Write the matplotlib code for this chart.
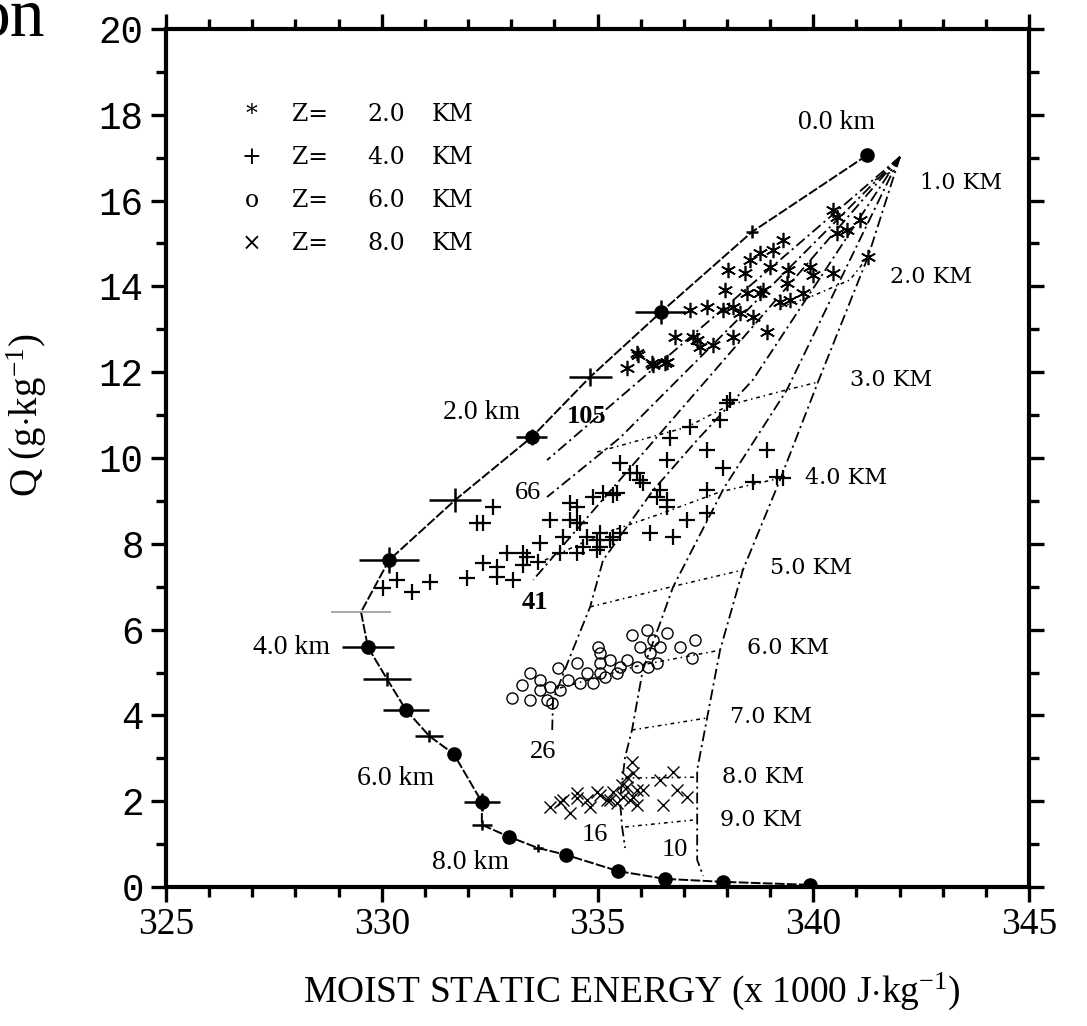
import matplotlib
matplotlib.use("Agg")
import matplotlib.pyplot as plt
from matplotlib.ticker import MultipleLocator
import numpy as np

plt.rcParams['mathtext.fontset'] = 'custom'
plt.rcParams['mathtext.rm'] = 'Liberation Serif'
plt.rcParams['mathtext.it'] = 'Liberation Serif:italic'
plt.rcParams['mathtext.default'] = 'rm'

# ---------------- data ----------------
# environmental sounding: integer-km points (filled dots)
dot_km = [0, 1, 2, 3, 4, 5, 6, 7, 8, 9, 10, 11, 12, 13]
dot_h = [341.25, 336.47, 333.48, 330.17, 329.68, 330.56, 331.67, 332.32, 332.95, 334.27, 335.48, 336.56, 337.91, 339.92]
dot_q = [17.06, 13.40, 10.49, 7.62, 5.59, 4.13, 3.10, 1.98, 1.17, 0.75, 0.37, 0.19, 0.12, 0.05]
dot_herr = [0, 0.59, 0.36, 0.70, 0.61, 0.54, 0, 0.41, 0, 0, 0, 0, 0, 0]
dot_qerr = [0, 0.28, 0.19, 0.30, 0, 0, 0, 0.20, 0, 0, 0, 0, 0, 0]
# half-km points (crosses)
half_km = [0.5, 1.5, 2.5, 3.5, 4.5, 5.5, 7.5, 8.5]
half_h = [338.58, 334.83, 331.70, 329.52, 330.12, 331.10, 332.32, 333.62]
half_q = [15.27, 11.89, 9.02, 6.41, 4.85, 3.52, 1.45, 0.91]
half_herr = [0.15, 0.50, 0.60, 0.70, 0.56, 0.32, 0.23, 0.12]
half_qerr = [0.15, 0.21, 0.28, 0.0, 0.16, 0.14, 0.12, 0.10]

# mixing lines (fan from the 1 km source point)
mix105_h = [342.01, 335.45, 333.83]
mix105_q = [17.02, 11.35, 9.95]
mix66_h = [342.01, 335.52, 333.83]
mix66_q = [17.02, 10.47, 9.09]
mix41_h = [342.01, 333.51]
mix41_q = [17.02, 7.16]
mix26_h = [342.01, 338.60, 337.31, 336.29, 335.13, 334.83, 334.36, 333.97, 333.95]
mix26_q = [17.02, 11.82, 10.42, 9.25, 7.62, 6.53, 5.36, 4.36, 3.66]
mix16_h = [342.01, 339.39, 337.93, 336.75, 336.45, 336.05, 335.80, 335.64, 335.52, 335.57, 335.64]
mix16_q = [17.02, 11.59, 9.30, 6.99, 6.15, 5.06, 3.66, 3.03, 2.03, 1.40, 0.91]
mix10_h = [342.01, 341.27, 340.11, 339.23, 338.37, 337.84, 337.54, 337.31, 337.31, 337.45]
mix10_q = [17.02, 14.69, 11.77, 9.49, 7.39, 5.52, 3.94, 2.73, 0.63, 0.26]
mix_labels = ["105", "66", "41", "26", "16", "10"]
mix_label_h = [334.76, 333.39, 333.55, 333.74, 334.94, 336.80]
mix_label_q = [10.96, 9.18, 6.64, 3.15, 1.21, 0.86]
mix_label_bold = [True, False, True, False, False, False]

# constant-height lines
lev1_h = [341.43, 341.89]
lev1_q = [16.48, 16.71]
lev2_h = [339.23, 339.92, 340.85, 341.27]
lev2_q = [13.52, 13.75, 14.15, 14.69]
lev3_h = [334.99, 337.07, 338.07, 339.39, 340.11]
lev3_q = [10.14, 10.72, 11.24, 11.59, 11.77]
lev4_h = [333.78, 335.06, 336.52, 337.84, 339.23]
lev4_q = [7.62, 8.21, 8.72, 9.21, 9.53]
lev5_h = [334.83, 336.68, 338.37]
lev5_q = [6.53, 6.99, 7.39]
lev6_h = [334.13, 335.99, 337.84]
lev6_q = [4.64, 5.17, 5.52]
lev7_h = [335.80, 337.54]
lev7_q = [3.66, 3.94]
lev8_h = [335.64, 337.31]
lev8_q = [2.54, 2.56]
lev9_h = [335.64, 337.21]
lev9_q = [1.40, 1.56]
lev_labels = ["1.0 KM", "2.0 KM", "3.0 KM", "4.0 KM", "5.0 KM", "6.0 KM", "7.0 KM", "8.0 KM", "9.0 KM"]
lev_label_h = [342.47, 341.78, 340.85, 339.81, 339.00, 338.46, 338.07, 337.88, 337.84]
lev_label_q = [16.41, 14.22, 11.82, 9.53, 7.44, 5.57, 3.96, 2.56, 1.56]

# sounding height labels
snd_labels = ["0.0 km", "2.0 km", "4.0 km", "6.0 km", "8.0 km"]
snd_label_h = [340.53, 332.32, 327.92, 330.31, 332.05]
snd_label_q = [17.81, 11.07, 5.59, 2.54, 0.58]

# cloud samples at Z = 2, 4, 6, 8 km
z2_h = [335.68, 335.93, 336.28, 336.61, 336.79, 337.14, 337.30, 337.53, 337.67, 337.95, 338.02, 338.14,
        338.14, 338.42, 338.46, 338.53, 338.77, 338.83, 338.93, 339.00, 339.07, 339.30, 339.41, 339.46,
        339.39, 339.76, 339.92, 339.99, 340.46, 340.78, 341.08, 340.55, 340.46, 340.55, 341.27, 338.30,
        338.60, 338.77, 337.91, 337.38, 337.21, 336.26, 336.56, 335.91, 339.23]
z2_q = [12.10, 12.40, 12.17, 12.24, 12.82, 13.45, 12.75, 13.52, 12.63, 13.92, 14.38, 13.52,
        12.82, 14.31, 13.85, 14.62, 14.78, 13.92, 12.94, 14.45, 14.85, 15.08, 14.38, 13.68,
        14.08, 13.85, 14.45, 14.27, 14.31, 15.31, 15.55, 15.62, 15.78, 15.24, 14.69, 13.38,
        13.29, 13.85, 13.45, 12.59, 12.82, 12.21, 12.21, 12.45, 13.64]
z4_h = [330.03, 330.35, 330.70, 331.12, 331.98, 332.21, 332.35, 332.58, 332.35, 332.67, 332.67, 333.04,
        332.90, 333.27, 333.27, 333.37, 333.62, 333.67, 333.90, 334.13, 334.20, 334.36, 334.36, 334.52,
        334.52, 334.52, 334.59, 334.66, 334.76, 334.90, 334.99, 334.99, 335.06, 335.06, 335.13, 335.29,
        335.36, 335.36, 335.45, 335.52, 335.52, 335.75, 335.92, 335.99, 336.05, 336.22, 336.38, 336.45,
        336.61, 336.61, 336.61, 336.68, 336.75, 337.07, 337.14, 337.54, 337.54, 337.54, 337.84, 337.91,
        338.00, 338.07, 338.60, 338.93, 339.16, 339.30]
z4_q = [6.97, 7.16, 6.88, 7.11, 7.20, 8.48, 8.48, 8.86, 7.55, 7.46, 7.23, 7.16,
        7.79, 7.79, 7.51, 7.69, 7.58, 8.02, 8.55, 7.79, 8.16, 8.95, 8.55, 8.86,
        8.48, 7.79, 8.48, 7.93, 8.16, 9.09, 8.09, 7.86, 8.25, 7.93, 9.18, 8.09,
        9.14, 8.16, 9.18, 9.88, 8.25, 9.65, 9.65, 9.49, 9.42, 8.25, 9.09, 9.25,
        9.95, 9.02, 8.86, 10.47, 8.16, 8.55, 10.72, 10.19, 9.25, 8.72, 10.89, 9.77,
        11.28, 11.35, 9.44, 10.19, 9.56, 9.53]
z6_h = [333.02, 333.25, 333.44, 333.44, 333.67, 333.67, 333.83, 333.90, 333.95, 334.08, 334.13, 334.32,
        334.52, 334.59, 334.76, 334.90, 335.01, 335.06, 335.06, 335.06, 335.17, 335.29, 335.45, 335.52,
        335.68, 335.80, 335.92, 335.99, 336.15, 336.17, 336.22, 336.29, 336.38, 336.45, 336.61, 336.91,
        337.19, 337.26]
z6_q = [4.41, 4.71, 4.99, 4.36, 4.83, 4.59, 4.36, 4.66, 4.29, 5.10, 4.59, 4.83,
        5.22, 4.76, 4.99, 4.76, 5.59, 5.45, 5.22, 4.99, 4.90, 5.29, 4.99, 5.13,
        5.29, 5.87, 5.13, 5.59, 5.99, 5.13, 5.45, 5.76, 5.22, 5.59, 5.92, 5.59,
        5.34, 5.76]
z8_h = [333.90, 334.13, 334.20, 334.36, 334.52, 334.52, 334.76, 334.83, 334.99, 335.06, 335.22, 335.29,
        335.36, 335.45, 335.57, 335.59, 335.68, 335.68, 335.75, 335.80, 335.82, 335.82, 335.92, 335.92,
        336.05, 336.45, 336.52, 336.75, 336.84, 337.07]
z8_q = [1.86, 1.98, 2.03, 1.72, 2.19, 2.07, 2.03, 1.86, 2.21, 2.14, 2.03, 2.03,
        2.21, 1.96, 2.38, 2.10, 2.33, 2.56, 2.03, 2.91, 2.66, 2.10, 1.91, 2.26,
        2.26, 2.49, 1.91, 2.68, 2.26, 2.10]

legend_sym = ["*", "+", "o", "\u00d7"]
legend_z = ["2.0", "4.0", "6.0", "8.0"]
legend_q = [18.0, 17.0, 16.0, 15.0]

x_ticks = [325, 330, 335, 340, 345]
y_ticks = [0, 2, 4, 6, 8, 10, 12, 14, 16, 18, 20]

# ---------------- figure ----------------
fig = plt.figure(figsize=(10.87, 10.26), dpi=100)
ax = fig.add_axes([166 / 1087, 139 / 1026, 863 / 1087, 858 / 1026])
ax.set_xlim(325, 345)
ax.set_ylim(0, 20)

dashdot = (0, (6, 2.2, 1.2, 2.2))
dotdash = (0, (2.5, 2.5, 1, 2.5))

for hh, qq in [(mix105_h, mix105_q), (mix66_h, mix66_q), (mix41_h, mix41_q),
               (mix26_h, mix26_q), (mix16_h, mix16_q), (mix10_h, mix10_q)]:
    ax.plot(hh, qq, color='black', lw=1.3, linestyle=dashdot)

for hh, qq in [(lev1_h, lev1_q), (lev2_h, lev2_q), (lev3_h, lev3_q), (lev4_h, lev4_q),
               (lev5_h, lev5_q), (lev6_h, lev6_q), (lev7_h, lev7_q), (lev8_h, lev8_q),
               (lev9_h, lev9_q)]:
    ax.plot(hh, qq, color='black', lw=1.1, linestyle=dotdash)

# cloud samples
ax.plot(z2_h, z2_q, linestyle='none', marker=(6, 2, 0), ms=11, mew=1.2, color='black')
ax.plot(z4_h, z4_q, linestyle='none', marker='+', ms=12, mew=1.6, color='black')
ax.plot(z6_h, z6_q, linestyle='none', marker='o', ms=8, mew=1.0, mfc='none', mec='black')
ax.plot(z8_h, z8_q, linestyle='none', marker='x', ms=8, mew=1.0, color='black')

# sounding curve through integer and half-km points
all_km = np.array(dot_km + half_km)
order = np.argsort(all_km)
curve_h = np.array(dot_h + half_h)[order]
curve_q = np.array(dot_q + half_q)[order]
ax.plot(curve_h, curve_q, color='black', lw=1.4, linestyle=(0, (5, 1.2)))
ax.plot(dot_h, dot_q, linestyle='none', marker='o', ms=9.5, color='black')
ax.errorbar(dot_h, dot_q, xerr=dot_herr, yerr=dot_qerr, fmt='none', ecolor='black', elinewidth=1.8)
half_col = ['black' if k != 3.5 else '#9a9a9a' for k in half_km]
for h, q, he, qe, c in zip(half_h, half_q, half_herr, half_qerr, half_col):
    ax.errorbar([h], [q], xerr=[he], yerr=[qe], fmt='none', ecolor=c,
                elinewidth=1.8 if c == 'black' else 1.2)

# labels on the plot
for t, h, q, b in zip(mix_labels, mix_label_h, mix_label_q, mix_label_bold):
    ax.text(h, q, t, ha='center', va='center', fontsize=19, family='Liberation Serif',
            fontweight='bold' if b else 'normal')
for t, h, q in zip(lev_labels, lev_label_h, lev_label_q):
    ax.text(h, q, t, ha='left', va='center', fontsize=16, family='DejaVu Serif')
for t, h, q in zip(snd_labels, snd_label_h, snd_label_q):
    ax.text(h, q, t, ha='center', va='center', fontsize=20, family='Liberation Serif')

for s, z, q in zip(legend_sym, legend_z, legend_q):
    ax.text(326.99, q, s, ha='center', va='center', fontsize=17, family='DejaVu Serif')
    ax.text(327.92, q, "Z=", ha='left', va='center', fontsize=17, family='DejaVu Serif')
    ax.text(329.66, q, z, ha='left', va='center', fontsize=17, family='DejaVu Serif')
    ax.text(331.16, q, "KM", ha='left', va='center', fontsize=17, family='DejaVu Serif')

# axes styling
for sp in ax.spines.values():
    sp.set_linewidth(3)
ax.xaxis.set_major_locator(MultipleLocator(5))
ax.xaxis.set_minor_locator(MultipleLocator(1))
ax.yaxis.set_major_locator(MultipleLocator(2))
ax.yaxis.set_minor_locator(MultipleLocator(1))
ax.set_xticks(x_ticks)
ax.set_yticks(y_ticks)
ax.tick_params(which='both', direction='out', top=True, right=True, width=2.4)
ax.tick_params(which='major', length=11, pad=4)
ax.tick_params(which='minor', length=7)
ax.tick_params(axis='y', which='major', pad=5)
for lab in ax.get_xticklabels():
    lab.set_family('Liberation Serif')
    lab.set_fontsize(27)
for lab in ax.get_yticklabels():
    lab.set_family('Liberation Mono')
    lab.set_fontsize(27)

ax.set_xlabel(r'MOIST STATIC ENERGY (x 1000 J$\cdot$kg$^{-1}$)', fontsize=27,
              family='Liberation Serif', labelpad=14)
ax.xaxis.set_label_coords(0.54, -0.097)
ax.set_ylabel(r'Q (g$\cdot$kg$^{-1}$)', fontsize=28, family='Liberation Serif', labelpad=10)
ax.yaxis.set_label_coords(-0.135, 0.55)

fig.text(45 / 1087, 1 - 35 / 1026, "on", ha='right', va='baseline', fontsize=50,
         family='Liberation Serif')

fig.savefig("out.png", dpi=100)
